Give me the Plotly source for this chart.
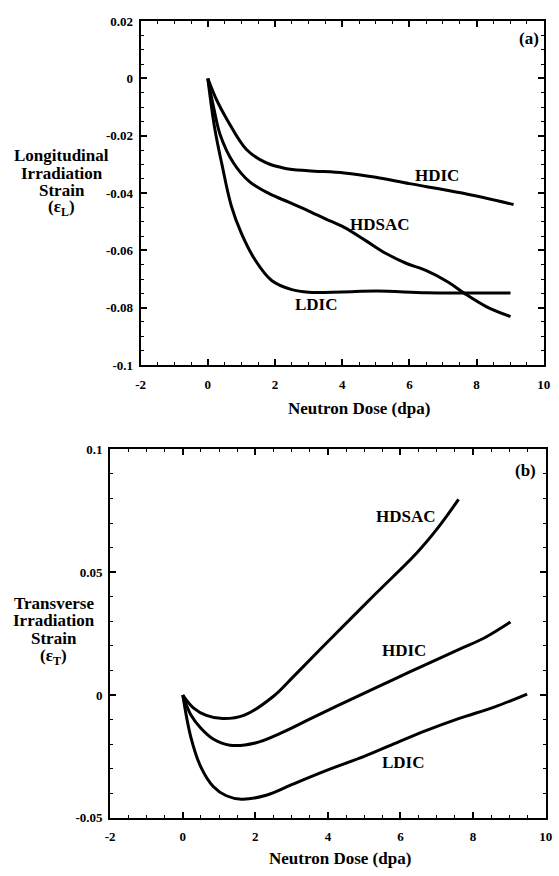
import plotly.graph_objects as go

W, H = 559, 876

# ---------------- data: panel (a) longitudinal strain ----------------
a_hdic_x = [0, 0.27, 0.57, 1.15, 1.73, 2.31, 2.99, 4.06, 5.0, 6.0, 7.57, 9.1]
a_hdic_y = [0, -0.0077, -0.0143, -0.0248, -0.0294, -0.0314, -0.0322, -0.0330, -0.0345, -0.0367, -0.0400, -0.0440]

a_hdsac_x = [0, 0.17, 0.37, 0.76, 1.24, 1.83, 2.41, 2.99, 3.5, 4.06, 4.7, 5.32, 5.9, 6.49, 7.16, 7.65, 8.3, 9.01]
a_hdsac_y = [0, -0.0099, -0.0197, -0.0294, -0.0360, -0.0402, -0.0432, -0.0462, -0.0490, -0.0520, -0.0566, -0.0612,
             -0.0645, -0.0670, -0.0711, -0.0751, -0.0797, -0.0831]

a_ldic_x = [0, 0.2, 0.42, 0.7, 1.0, 1.4, 1.9, 2.5, 3.0, 4.0, 5.03, 6.49, 7.65, 9.01]
a_ldic_y = [0, -0.017, -0.030, -0.0445, -0.0541, -0.0632, -0.0705, -0.0737, -0.0746, -0.0745, -0.0742,
            -0.0748, -0.0749, -0.0749]

# ---------------- data: panel (b) transverse strain ----------------
b_hdsac_x = [0, 0.3, 0.65, 1.1, 1.7, 2.5, 3.05, 4.05, 5.3, 6.46, 7.03, 7.6]
b_hdsac_y = [0, -0.0053, -0.0083, -0.0096, -0.0082, -0.0005, 0.0075, 0.0225, 0.041, 0.058, 0.068, 0.0796]

b_hdic_x = [0, 0.22, 0.5, 0.85, 1.3, 2.0, 2.7, 3.54, 4.46, 5.4, 6.24, 7.6, 8.32, 9.03]
b_hdic_y = [0, -0.008, -0.0135, -0.018, -0.0204, -0.0195, -0.0155, -0.0095, -0.003, 0.0035, 0.0093, 0.0185,
            0.0233, 0.0297]

b_ldic_x = [0, 0.22, 0.49, 0.84, 1.2, 1.62, 2.3, 3.0, 4.0, 5.0, 5.8, 6.7, 7.6, 8.6, 9.49]
b_ldic_y = [0, -0.017, -0.029, -0.0372, -0.041, -0.0424, -0.0408, -0.0365, -0.0305, -0.025, -0.020, -0.0145,
            -0.0096, -0.0048, 0.0004]

# ---------------- tick labels ----------------
x_tickvals = [-2, 0, 2, 4, 6, 8, 10]
x_ticktext = ["-2", "0", "2", "4", "6", "8", "10"]
a_y_tickvals = [0.02, 0, -0.02, -0.04, -0.06, -0.08, -0.1]
a_y_ticktext = ["0.02", "0", "-0.02", "-0.04", "-0.06", "-0.08", "-0.1"]
b_y_tickvals = [0.1, 0.05, 0, -0.05]
b_y_ticktext = ["0.1", "0.05", "0", "-0.05"]

FONT = "Liberation Serif"


def px(xp):
    return xp / W


def py(yp):
    return 1 - yp / H


fig = go.Figure()
line = dict(color="black", width=3, shape="spline", smoothing=1.0)
for xs, ys in [(a_hdic_x, a_hdic_y), (a_hdsac_x, a_hdsac_y), (a_ldic_x, a_ldic_y)]:
    fig.add_trace(go.Scatter(x=xs, y=ys, mode="lines", line=line, xaxis="x", yaxis="y",
                             showlegend=False, hoverinfo="skip"))
for xs, ys in [(b_hdsac_x, b_hdsac_y), (b_hdic_x, b_hdic_y), (b_ldic_x, b_ldic_y)]:
    fig.add_trace(go.Scatter(x=xs, y=ys, mode="lines", line=line, xaxis="x2", yaxis="y2",
                             showlegend=False, hoverinfo="skip"))

tickfont = dict(family=FONT, size=13, color="black", weight="bold")


def xaxis(domain, anchor):
    return dict(domain=domain, anchor=anchor, range=[-2, 10], tickvals=x_tickvals, ticktext=x_ticktext,
                ticks="inside", ticklen=6, tickwidth=1.5, tickcolor="black",
                minor=dict(dtick=0.5, tick0=0, ticks="inside", ticklen=3, tickwidth=1.2, tickcolor="black"),
                showline=True, linewidth=2, linecolor="black", mirror="allticks",
                showgrid=False, zeroline=False, tickfont=tickfont, fixedrange=True,
                ticklabelstandoff=6)


def yaxis(domain, anchor, rng, tv, tt, mdt):
    return dict(domain=domain, anchor=anchor, range=rng, tickvals=tv, ticktext=tt,
                ticks="inside", ticklen=6, tickwidth=1.5, tickcolor="black",
                minor=dict(dtick=mdt, tick0=0, ticks="inside", ticklen=3, tickwidth=1.2, tickcolor="black"),
                showline=True, linewidth=2, linecolor="black", mirror="allticks",
                showgrid=False, zeroline=False, tickfont=tickfont, fixedrange=True,
                ticklabelstandoff=3)


fig.update_layout(
    width=W, height=H, margin=dict(l=0, r=0, t=0, b=0),
    paper_bgcolor="white", plot_bgcolor="white",
    font=dict(family=FONT),
    xaxis=xaxis([px(138.6), px(550.6)], "y"),
    yaxis=yaxis([py(364.2), py(14.4)], "x", [-0.1, 0.02], a_y_tickvals, a_y_ticktext, 0.005),
    xaxis2=xaxis([px(107.5), px(552.5)], "y2"),
    yaxis2=yaxis([py(825), py(450)], "x2", [-0.05, 0.1], b_y_tickvals, b_y_ticktext, 0.01),
)

ann = []


def text(s, xp, yp, size=17, xanchor="center"):
    ann.append(dict(text=s, x=px(xp), y=py(yp), xref="paper", yref="paper", showarrow=False,
                    xanchor=xanchor, yanchor="middle",
                    font=dict(family=FONT, size=size, color="black", weight="bold")))


# panel (a)
text("HDIC", 441.7, 171)
text("HDSAC", 383.3, 221.7)
text("LDIC", 318, 303)
text("(a)", 535, 32)
text("Neutron Dose (dpa)", 362, 409)
for s, yp in [("Longitudinal", 151), ("Irradiation", 169), ("Strain", 187), ("(ε<sub>L</sub>)", 204)]:
    text(s, 58, yp)

# panel (b)
text("HDSAC", 410, 518)
text("HDIC", 408, 655)
text("LDIC", 407, 769)
text("(b)", 532, 472)
text("Neutron Dose (dpa)", 342, 866)
for s, yp in [("Transverse", 607), ("Irradiation", 624), ("Strain", 642), ("(ε<sub>T</sub>)", 661)]:
    text(s, 50, yp)

fig.update_layout(annotations=ann)
fig.write_html("out.html")
